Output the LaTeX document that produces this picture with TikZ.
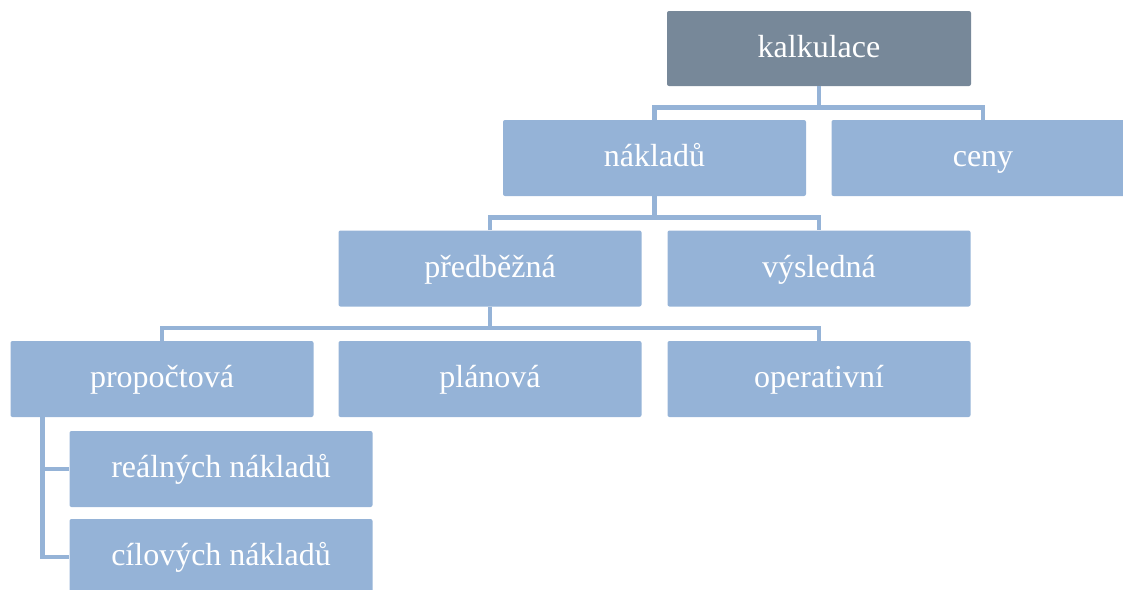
\documentclass[tikz,border=0pt]{standalone}
\usepackage{fontspec}
\setmainfont{Liberation Serif}
\definecolor{boxblue}{HTML}{95B3D7}
\definecolor{boxgray}{HTML}{778899}
\tikzset{
  orgbox/.style={fill=boxblue, draw=none, rounded corners=2pt,
    minimum width=303pt, minimum height=76pt, inner sep=0pt,
    text height=24pt, text depth=7pt,
    text=white, font=\fontsize{32}{36}\selectfont},
  rootbox/.style={orgbox, fill=boxgray, minimum width=304pt, minimum height=75pt},
  link/.style={draw=boxblue, line width=4.5pt}
}
\begin{document}
\begin{tikzpicture}[x=1pt, y=-1pt]
\useasboundingbox (0,0) rectangle (1123,589);
\clip (0,0) rectangle (1123,589);

% boxes of the hierarchy
\node[rootbox] (kalk) at (819,48.5) {kalkulace};
\node[orgbox] (nakl) at (654.5,158) {nákladů};
\node[orgbox] (ceny) at (983,158) {ceny};
\node[orgbox] (pred) at (490,268.5) {předběžná};
\node[orgbox] (vysl) at (819,268.5) {výsledná};
\node[orgbox] (prop) at (162,379) {propočtová};
\node[orgbox] (plan) at (490,379) {plánová};
\node[orgbox] (oper) at (819,379) {operativní};
\node[orgbox] (real) at (221,469) {reálných nákladů};
\node[orgbox] (cil)  at (221,557) {cílových nákladů};

% elbow connectors between parent and child boxes
\path[link] (kalk.south) -- ++(0,21);
\path[link] (nakl.north) -- ++(0,-12.5) -| (ceny.north);
\path[link] (nakl.south) -- ++(0,21);
\path[link] (pred.north) -- ++(0,-13) -| (vysl.north);
\path[link] (pred.south) -- ++(0,21);
\path[link] (prop.north) -- ++(0,-13) -| (oper.north);
\coordinate (trunk) at ([xshift=32pt]prop.south west);
\path[link] (trunk) |- (real.west);
\path[link] (trunk) |- (cil.west);
\end{tikzpicture}
\end{document}
